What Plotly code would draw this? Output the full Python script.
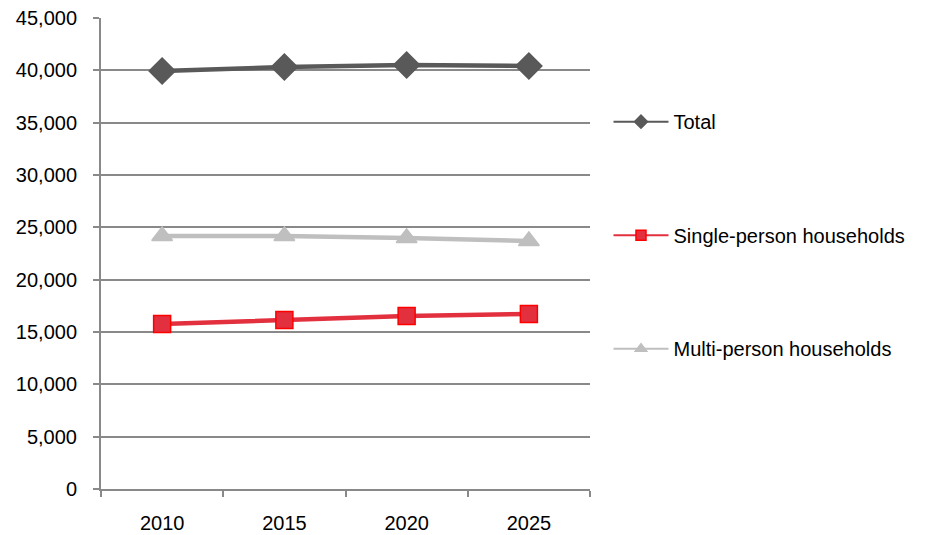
import plotly.graph_objects as go

years = ["2010", "2015", "2020", "2025"]
total = [39940, 40320, 40510, 40420]
single_person = [15765, 16150, 16530, 16720]
multi_person = [24175, 24170, 23980, 23700]

series = [
    # name, values, line colour, marker fill, marker edge, symbol, size
    ("Total", total, "#595959", "#595959", "#595959", "diamond", 20),
    ("Single-person households", single_person, "#E3303F", "#E3303F", "#FF0000", "square", 17),
    ("Multi-person households", multi_person, "#BFBFBF", "#BFBFBF", "#BFBFBF", "triangle-up", 18),
]

fig = go.Figure()
for i, (name, vals, lc, fc, ec, sym, sz) in enumerate(series):
    fig.add_trace(go.Scatter(
        x=years, y=vals, mode="lines+markers", name=name, showlegend=False,
        line=dict(color=lc, width=4.5),
        marker=dict(symbol=sym, size=sz, color=fc, line=dict(color=ec, width=1.5)),
    ))
    # slimmer legend entry
    fig.add_trace(go.Scatter(
        x=[None], y=[None], mode="lines+markers", name=name, legendgroup=f"g{i}",
        line=dict(color=lc, width=2),
        marker=dict(symbol=sym, size=10, color=fc, line=dict(color=ec, width=1.5)),
    ))

grid = "#898989"
font = "Liberation Sans, Arial, sans-serif"
fs = 20

fig.update_layout(
    width=929, height=535,
    margin=dict(l=101, r=339, t=18, b=46),
    paper_bgcolor="white", plot_bgcolor="white",
    font=dict(family=font, size=fs, color="#000000"),
    showlegend=True,
    legend=dict(
        x=0.655, xref="container", xanchor="left",
        y=0.809, yref="container", yanchor="top",
        tracegroupgap=84.5, itemwidth=55, maxheight=1,
        font=dict(family=font, size=fs, color="#000000"),
        bgcolor="rgba(0,0,0,0)",
    ),
    xaxis=dict(
        type="category", range=[-0.5, 3.5], automargin=False,
        showgrid=False, showline=True, linecolor=grid, linewidth=2,
        ticks="outside", tickson="boundaries", ticklen=6, tickcolor=grid, tickwidth=2,
        ticklabelstandoff=15,
        tickfont=dict(family=font, size=fs, color="#000000"),
    ),
    yaxis=dict(
        range=[0, 45000], tickvals=list(range(0, 45001, 5000)), automargin=False,
        tickformat=",d", showgrid=True, gridcolor=grid, gridwidth=2,
        showline=True, linecolor=grid, linewidth=2, zeroline=False,
        ticks="outside", ticklen=6, tickcolor=grid, tickwidth=2,
        ticklabelstandoff=12,
        tickfont=dict(family=font, size=fs, color="#000000"),
    ),
)

fig.write_html("out.html")
